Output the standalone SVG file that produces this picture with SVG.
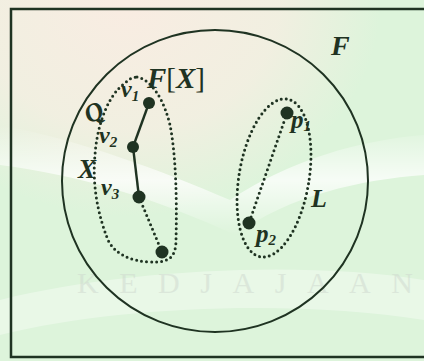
<svg xmlns="http://www.w3.org/2000/svg" width="424" height="361" viewBox="0 0 424 361">
  <defs>
    <radialGradient id="peach" cx="0.3" cy="0" r="0.6">
      <stop offset="0" stop-color="#f9ece2"/>
      <stop offset="0.6" stop-color="#f6eee2" stop-opacity="0.8"/>
      <stop offset="1" stop-color="#f6eee2" stop-opacity="0"/>
    </radialGradient>
    <linearGradient id="band" x1="0" y1="0" x2="0" y2="1">
      <stop offset="0" stop-color="#ffffff" stop-opacity="0"/>
      <stop offset="0.5" stop-color="#ffffff" stop-opacity="0.75"/>
      <stop offset="1" stop-color="#ffffff" stop-opacity="0"/>
    </linearGradient>
    <style>
      .ink { stroke: #1f3322; fill: none; }
      .solid { stroke: #1f3322; stroke-width: 2.4; fill: none; }
      .dot { stroke: #1f3322; stroke-width: 3; fill: none; stroke-dasharray: 0 5; stroke-linecap: round; }
      .node { fill: #1f3322; }
      .lbl { font-family: "Liberation Serif", "Times New Roman", serif; font-style: italic; font-weight: bold; fill: #1f3322; }
      .up { font-style: normal; font-weight: normal; }
      .wm { font-family: "Liberation Serif", serif; fill: #cfd8cf; opacity: 0.5; }
    </style>
  </defs>

  <!-- background -->
  <rect x="0" y="0" width="424" height="361" fill="#ddf4db"/>
  <rect x="0" y="0" width="424" height="361" fill="url(#peach)"/>
  <path d="M0,125 C80,140 160,170 230,200 C290,160 360,140 424,135 L424,175 C360,180 290,195 235,235 C160,200 80,175 0,165 Z" fill="url(#band)"/>
  <path d="M0,300 C120,270 300,260 424,280 L424,320 C300,300 120,305 0,335 Z" fill="#ffffff" opacity="0.35"/>
  <text class="wm" x="77" y="293" font-size="30" textLength="336" lengthAdjust="spacing">KEDJAJAAN</text>

  <!-- frame -->
  <rect x="11" y="9" width="420" height="348" class="ink" stroke-width="2.5"/>

  <!-- F circle -->
  <g id="F">
    <ellipse cx="215" cy="181" rx="153" ry="151" class="ink" stroke-width="2"/>
    <text class="lbl" x="331" y="55" font-size="28">F</text>
  </g>

  <!-- dotted regions -->
  <g id="X">
    <path class="dot" d="M137,77 C152,80 164,100 170,125 C176,155 177,200 176,240 C176,258 168,263 150,262 C130,261 115,254 108,240 C98,215 92,185 95,155 C97,125 108,95 125,83 C129,79 133,77 137,77 Z"/>
    <text class="lbl" x="78" y="178" font-size="27">X</text>
    <text class="lbl" font-size="26" transform="translate(89,124) rotate(-25)">Q</text>
    <text class="lbl" x="147" y="88" font-size="29">F<tspan class="up">[</tspan>X<tspan class="up">]</tspan></text>
  </g>

  <g id="L">
    <ellipse cx="274" cy="178" rx="35" ry="80" transform="rotate(9.5 274 178)" class="dot"/>
    <text class="lbl" x="311" y="207" font-size="26">L</text>
  </g>

  <!-- connectors -->
  <g id="edges">
    <line x1="149" y1="103" x2="133" y2="147" class="solid"/>
    <line x1="133" y1="147" x2="139" y2="197" class="solid"/>
    <line x1="139" y1="197" x2="162" y2="252" class="dot"/>
    <line x1="287" y1="113" x2="249" y2="223" class="dot"/>
  </g>

  <!-- nodes -->
  <g id="v1">
    <circle cx="149" cy="103" r="6" class="node"/>
    <text class="lbl" x="121" y="97" font-size="24">v<tspan font-size="15" dy="4">1</tspan></text>
  </g>
  <g id="v2">
    <circle cx="133" cy="147" r="6" class="node"/>
    <text class="lbl" x="99" y="143" font-size="24">v<tspan font-size="15" dy="4">2</tspan></text>
  </g>
  <g id="v3">
    <circle cx="139" cy="197" r="6.5" class="node"/>
    <text class="lbl" x="101" y="195" font-size="24">v<tspan font-size="15" dy="4">3</tspan></text>
  </g>
  <g id="v4">
    <circle cx="162" cy="252" r="6.5" class="node"/>
  </g>
  <g id="p1">
    <circle cx="287" cy="113" r="6.5" class="node"/>
    <text class="lbl" x="291" y="128" font-size="25">p<tspan font-size="15" dy="3">1</tspan></text>
  </g>
  <g id="p2">
    <circle cx="249" cy="223" r="6.5" class="node"/>
    <text class="lbl" x="256" y="242" font-size="25">p<tspan font-size="15" dy="3">2</tspan></text>
  </g>
</svg>
